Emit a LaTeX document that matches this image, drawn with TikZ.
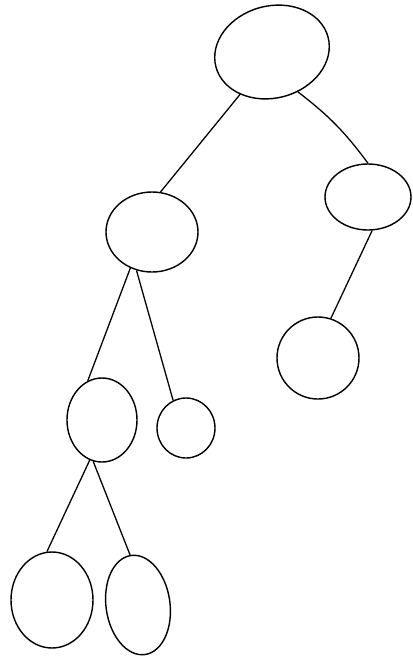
\documentclass[tikz,border=0pt]{standalone}
\usetikzlibrary{shapes.geometric}
\tikzset{
  vtx/.style={draw, ellipse, inner sep=0pt, line width=1.2pt},
  lnk/.style={line width=1.1pt}}
\begin{document}
\begin{tikzpicture}[x=0.03cm, y=-0.03cm]
\useasboundingbox (0,0) rectangle (413,660);
% nodes
\node[vtx, minimum width=34.8mm, minimum height=27.6mm, rotate=15] (root) at (272,52) {};
\node[vtx, minimum width=25.8mm, minimum height=19.8mm] (rc) at (368,197) {};
\node[vtx, minimum width=24.6mm, minimum height=24.6mm] (rcc) at (318,358) {};
\node[vtx, minimum width=27.6mm, minimum height=24mm] (lc) at (152,232) {};
\node[vtx, minimum width=21mm, minimum height=25.2mm] (ll) at (102,420) {};
\node[vtx, minimum width=17.4mm, minimum height=18mm] (lr) at (186,428) {};
\node[vtx, minimum width=24.6mm, minimum height=28.8mm] (lll) at (52,600) {};
\node[vtx, minimum width=19.2mm, minimum height=30mm, rotate=8] (llr) at (138,605) {};
% edges
\draw[lnk] (root.218) -- (lc.78);
\draw[lnk] (root.288) to[bend left=8] (rc.90);
\draw[lnk] (rc.277) -- (rcc.72);
\draw[lnk] (lc.239) -- (ll.110);
\draw[lnk] (lc.248) -- (lr.115);
\draw[lnk] (ll.253) -- (lll.96);
\draw[lnk] (ll.258) -- (llr.91);
\end{tikzpicture}
\end{document}
